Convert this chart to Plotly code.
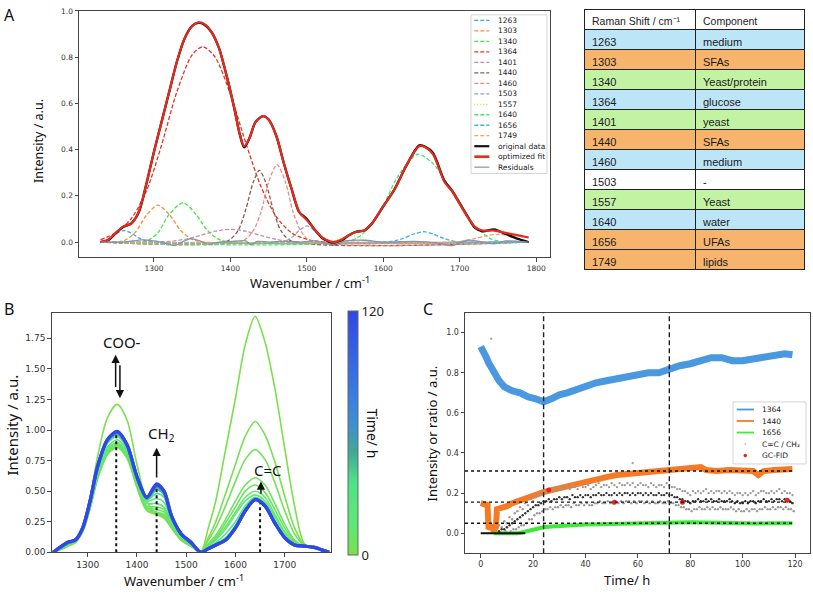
import plotly.graph_objects as go
from plotly.colors import sample_colorscale

W, H = 813, 597
def fx(p): return p / W
def fy(p): return 1 - p / H

TICKFONT = "DejaVu Sans"
LABFONT = "Noto Sans"
TABFONT = "Liberation Sans"

# ---------------- Panel A data ----------------
fit_x = [1230,1240,1250,1260,1270,1280,1290,1300,1310,1320,1330,1340,1350,1358,1365,1375,1385,1395,1405,1412,
         1418,1425,1433,1443,1450,1460,1470,1480,1490,1500,1510,1520,1530,1535,1545,1555,1565,1575,1585,1600,
         1615,1630,1647,1655,1665,1680,1690,1700,1710,1720,1730,1745,1760,1775,1790]
fit_y = [0.0,0.01,0.04,0.068,0.078,0.13,0.25,0.39,0.52,0.65,0.78,0.88,0.935,0.95,0.945,0.91,0.84,0.72,0.58,0.47,
         0.415,0.45,0.52,0.545,0.53,0.46,0.34,0.23,0.13,0.095,0.055,0.02,0.003,0.0,0.01,0.03,0.045,0.05,0.08,0.155,
         0.23,0.33,0.415,0.41,0.38,0.26,0.22,0.165,0.11,0.065,0.05,0.05,0.04,0.03,0.02]
orig_y = [0.0,0.008,0.038,0.066,0.08,0.128,0.25,0.39,0.52,0.65,0.78,0.88,0.935,0.948,0.943,0.91,0.84,0.72,0.58,0.47,
          0.41,0.45,0.52,0.545,0.53,0.46,0.34,0.23,0.13,0.1,0.055,0.018,0.0,-0.01,0.005,0.03,0.045,0.05,0.08,0.155,
          0.23,0.33,0.418,0.412,0.385,0.265,0.222,0.167,0.112,0.062,0.047,0.055,0.035,0.015,0.0]
res_x = [1230,1260,1285,1300,1315,1327,1340,1348,1360,1372,1385,1400,1420,1427,1435,1450,1470,1490,1510,1535,
         1550,1575,1600,1640,1670,1690,1710,1730,1745,1760,1790]
res_y = [0,0.0,0.01,0.005,-0.005,-0.015,0.005,0.015,0.005,-0.01,0,0.002,0.005,-0.012,0.003,0,0.003,0,0.005,-0.01,
         0.005,0.008,0.0,0.003,-0.003,-0.015,0.008,0.0,-0.008,0.005,0]

c1263_x = [1230,1240,1250,1260,1270,1280,1290,1300,1790]
c1263_y = [0,0.012,0.035,0.05,0.04,0.018,0.005,0,0]
c1303_x = [1230,1260,1275,1290,1305,1320,1335,1350,1365,1790]
c1303_y = [0,0.005,0.04,0.115,0.16,0.12,0.05,0.012,0,0]
c1340_x = [1230,1290,1305,1320,1338,1355,1370,1385,1400,1790]
c1340_y = [0,0.005,0.04,0.12,0.17,0.12,0.05,0.012,0,0]
c1364_x = [1230,1250,1270,1290,1310,1330,1350,1364,1380,1400,1420,1440,1460,1480,1500,1520,1790]
c1364_y = [0.01,0.04,0.10,0.22,0.42,0.65,0.81,0.845,0.80,0.64,0.43,0.24,0.11,0.04,0.012,0.002,0]
c1401_x = [1230,1320,1340,1360,1380,1400,1420,1440,1460,1480,1790]
c1401_y = [0,0.003,0.012,0.028,0.047,0.055,0.047,0.028,0.012,0.003,0]
c1440_x = [1230,1395,1410,1420,1430,1438,1446,1456,1466,1480,1790]
c1440_y = [0,0.003,0.05,0.14,0.26,0.31,0.26,0.14,0.05,0.005,0]
c1460_x = [1230,1415,1430,1440,1450,1461,1472,1482,1492,1505,1790]
c1460_y = [0,0.003,0.05,0.13,0.26,0.335,0.26,0.13,0.05,0.005,0]
c1503_x = [1230,1470,1480,1490,1500,1510,1520,1530,1790]
c1503_y = [0,0.003,0.02,0.05,0.07,0.05,0.02,0.003,0]
c1557_x = [1230,1530,1545,1557,1570,1585,1790]
c1557_y = [0,0.002,0.018,0.03,0.018,0.002,0]
c1640_x = [1230,1560,1580,1600,1620,1645,1665,1680,1700,1720,1740,1760,1790]
c1640_y = [0,0.01,0.06,0.16,0.29,0.38,0.34,0.27,0.16,0.07,0.015,0,0]
c1656_x = [1230,1610,1625,1640,1653,1665,1680,1695,1790]
c1656_y = [0,0.003,0.015,0.035,0.045,0.035,0.015,0.003,0]
c1749_x = [1230,1690,1705,1720,1735,1750,1765,1780,1790]
c1749_y = [0,0.0,0.005,0.015,0.028,0.033,0.03,0.025,0.02]

comp_names = ["1263","1303","1340","1364","1401","1440","1460","1503","1557","1640","1656","1749"]
comp_colors = ["#3aa8e8","#f3923a","#3ee83e","#e8321e","#c08cbc","#8c5a50","#f08a7c","#93a2c6",
               "#b8e830","#40e87a","#3fb2e8","#f4a066"]
comp_dash = ["4px,2px"]*8 + ["1px,2px"] + ["4px,2px"]*3
comp_xs = [c1263_x,c1303_x,c1340_x,c1364_x,c1401_x,c1440_x,c1460_x,c1503_x,c1557_x,c1640_x,c1656_x,c1749_x]
comp_ys = [c1263_y,c1303_y,c1340_y,c1364_y,c1401_y,c1440_y,c1460_y,c1503_y,c1557_y,c1640_y,c1656_y,c1749_y]

# ---------------- Table data ----------------
tab_header = ["Raman\u00a0Shift\u00a0/\u00a0cm\u207b\u00b9", "Component"]
tab_shift = ["1263","1303","1340","1364","1401","1440","1460","1503","1557","1640","1656","1749"]
tab_comp = ["medium","SFAs","Yeast/protein","glucose","yeast","SFAs","medium","-","Yeast","water","UFAs","lipids"]
tab_class = ["b","o","g","b","g","o","b","w","g","b","o","o"]

# ---------------- Panel B data ----------------
b_x = [1230,1245,1260,1275,1290,1305,1320,1340,1360,1380,1400,1420,1440,1455,1470,1490,1510,1530,
       1545,1560,1580,1600,1620,1640,1660,1680,1700,1720,1740,1760,1775,1790]
b_times = [0, 2, 4, 6, 8, 10, 14, 20, 30, 45, 70, 95, 120]
s_t0 = [0,0.02,0.05,0.08,0.2,0.45,0.78,1.10,1.21,1.08,0.72,0.42,0.31,0.28,0.2,0.1,0.05,0.01,
        0.2,0.42,0.84,1.26,1.70,1.93,1.72,1.34,0.85,0.38,0.07,0.04,0.02,0]
s_t2 = [0,0.03,0.06,0.08,0.17,0.36,0.60,0.80,0.86,0.77,0.53,0.34,0.31,0.29,0.2,0.1,0.05,0.0,
        0.12,0.25,0.48,0.72,0.95,1.07,0.96,0.74,0.46,0.2,0.06,0.04,0.02,0]
s_t4 = [0,0.03,0.06,0.08,0.17,0.36,0.60,0.80,0.86,0.77,0.54,0.35,0.32,0.30,0.21,0.1,0.05,0,
        0.1,0.2,0.38,0.58,0.76,0.84,0.76,0.57,0.34,0.15,0.06,0.04,0.02,0]
s_t6 = [0,0.03,0.06,0.09,0.17,0.37,0.61,0.81,0.87,0.78,0.55,0.36,0.33,0.31,0.22,0.11,0.06,0,
        0.07,0.14,0.27,0.42,0.55,0.61,0.55,0.40,0.23,0.1,0.05,0.04,0.02,0]
s_t8 = [0,0.03,0.06,0.09,0.18,0.38,0.62,0.82,0.88,0.79,0.56,0.37,0.35,0.33,0.23,0.12,0.06,0,
        0.06,0.12,0.24,0.37,0.50,0.55,0.49,0.35,0.2,0.09,0.05,0.04,0.02,0]
s_t10 = [0,0.035,0.065,0.09,0.18,0.38,0.63,0.83,0.89,0.80,0.57,0.38,0.37,0.35,0.24,0.12,0.06,0,
         0.05,0.11,0.21,0.33,0.45,0.50,0.45,0.31,0.17,0.08,0.05,0.04,0.02,0]
s_t14 = [0,0.035,0.07,0.095,0.19,0.39,0.64,0.84,0.90,0.81,0.58,0.40,0.40,0.37,0.25,0.13,0.07,0,
         0.05,0.1,0.19,0.31,0.42,0.47,0.42,0.29,0.15,0.07,0.05,0.04,0.02,0]
s_t20 = [0,0.035,0.07,0.095,0.19,0.40,0.66,0.86,0.92,0.83,0.59,0.42,0.44,0.41,0.27,0.14,0.07,0,
         0.04,0.08,0.15,0.25,0.38,0.45,0.40,0.26,0.13,0.06,0.05,0.04,0.02,0]
s_t30 = [0,0.04,0.075,0.1,0.2,0.41,0.68,0.89,0.95,0.85,0.60,0.43,0.48,0.45,0.28,0.14,0.08,0,
         0.035,0.07,0.12,0.22,0.36,0.44,0.39,0.25,0.12,0.06,0.05,0.04,0.02,0]
s_t45 = [0,0.04,0.08,0.1,0.2,0.42,0.69,0.91,0.97,0.87,0.61,0.44,0.52,0.48,0.29,0.15,0.08,0,
         0.03,0.06,0.1,0.2,0.34,0.44,0.38,0.24,0.12,0.06,0.05,0.04,0.02,0]
s_t70 = [0,0.04,0.08,0.1,0.2,0.42,0.70,0.92,0.98,0.88,0.62,0.45,0.54,0.50,0.30,0.15,0.08,0,
         0.03,0.06,0.1,0.2,0.34,0.43,0.38,0.24,0.12,0.06,0.05,0.04,0.02,0]
s_t95 = [0,0.045,0.08,0.1,0.2,0.42,0.70,0.92,0.985,0.88,0.62,0.45,0.55,0.50,0.30,0.15,0.08,0,
         0.03,0.06,0.1,0.2,0.34,0.43,0.38,0.24,0.12,0.06,0.05,0.04,0.02,0]
s_t120 = [0,0.045,0.085,0.1,0.2,0.42,0.70,0.92,0.99,0.88,0.62,0.45,0.56,0.50,0.30,0.15,0.08,0,
          0.03,0.06,0.1,0.2,0.34,0.43,0.38,0.24,0.12,0.06,0.05,0.04,0.02,0]
b_spectra = [s_t0,s_t2,s_t4,s_t6,s_t8,s_t10,s_t14,s_t20,s_t30,s_t45,s_t70,s_t95,s_t120]
b_marker_x = [1358, 1440, 1650]
b_marker_top = [0.97, 0.54, 0.40]

# ---------------- Panel C data ----------------
t_1364 = [0,1,2,3,5,7,9,12,15,18,21,24,27,30,33,36,40,44,48,52,56,60,64,68,72,76,80,84,88,92,96,100,104,108,112,116,119]
v_1364 = [0.93,0.91,0.88,0.85,0.80,0.76,0.73,0.71,0.70,0.68,0.67,0.655,0.67,0.69,0.70,0.715,0.73,0.75,0.76,0.77,
          0.785,0.795,0.80,0.80,0.82,0.835,0.845,0.86,0.875,0.875,0.86,0.86,0.87,0.875,0.885,0.895,0.89]
t_1440 = [0,2,2.6,3,4,5,5.8,6.2,8,10,12,14,16,18,20,22,24,27,30,33,36,40,44,48,52,56,60,64,68,72,76,80,84,86,90,95,
          100,104,106,108,112,116,119]
v_1440 = [0.15,0.145,0.14,0.02,0.04,0.01,0.03,0.12,0.125,0.135,0.15,0.16,0.165,0.175,0.185,0.195,0.205,0.215,0.225,
          0.235,0.245,0.255,0.27,0.28,0.29,0.295,0.30,0.305,0.305,0.31,0.315,0.325,0.33,0.315,0.31,0.315,0.315,0.31,
          0.29,0.31,0.315,0.315,0.32]
t_1656 = [5,14,16,18,20,22,24,27,30,35,40,45,50,55,60,65,70,75,80,85,90,95,100,105,110,115,119]
v_1656 = [0.0,0.0,0.005,0.012,0.02,0.025,0.03,0.033,0.036,0.04,0.043,0.045,0.047,0.05,0.05,0.052,0.055,0.056,0.055,
          0.054,0.052,0.05,0.047,0.048,0.05,0.05,0.05]
ratio_t = list(range(7, 120))
ratio_t_half = [t + 0.5 for t in ratio_t]
ratio_mid = [0.01,0.02,0.02,0.03,0.04,0.05,0.06,0.07,0.08,0.09,
             0.10,0.11,0.12,0.13,0.14,0.14,0.15,0.16,0.16,0.17,
             0.16,0.17,0.17,0.18,0.17,0.18,0.18,0.17,0.19,0.18,
             0.18,0.19,0.18,0.19,0.19,0.18,0.19,0.19,0.2,0.19,
             0.19,0.2,0.19,0.19,0.2,0.19,0.2,0.19,0.2,0.2,
             0.19,0.2,0.19,0.2,0.2,0.19,0.2,0.19,0.2,0.19,
             0.19,0.2,0.19,0.19,0.2,0.19,0.19,0.18,0.18,0.17,
             0.17,0.16,0.16,0.15,0.16,0.16,0.17,0.16,0.16,0.17,
             0.16,0.17,0.16,0.16,0.17,0.16,0.16,0.16,0.17,0.16,
             0.15,0.16,0.15,0.15,0.16,0.15,0.16,0.16,0.15,0.16,
             0.16,0.17,0.16,0.16,0.17,0.16,0.17,0.17,0.16,0.17,
             0.16,0.16,0.15]
ratio_hi = [0.04,0.03,0.06,0.05,0.08,0.07,0.10,0.11,0.13,0.12,
            0.15,0.14,0.17,0.16,0.18,0.19,0.19,0.21,0.20,0.22,
            0.21,0.22,0.21,0.23,0.22,0.22,0.23,0.22,0.24,0.23,
            0.22,0.24,0.23,0.23,0.24,0.22,0.23,0.24,0.25,0.23,
            0.24,0.24,0.23,0.25,0.24,0.23,0.25,0.24,0.24,0.25,
            0.24,0.25,0.23,0.24,0.25,0.24,0.24,0.23,0.25,0.24,
            0.23,0.24,0.24,0.23,0.25,0.24,0.23,0.23,0.22,0.22,
            0.21,0.21,0.2,0.19,0.21,0.2,0.21,0.2,0.21,0.22,
            0.2,0.21,0.2,0.21,0.21,0.2,0.21,0.2,0.21,0.2,
            0.19,0.2,0.2,0.19,0.2,0.19,0.2,0.21,0.19,0.2,
            0.21,0.21,0.2,0.2,0.21,0.2,0.21,0.22,0.2,0.21,
            0.2,0.2,0.19]
ratio_lo = [0.0,0.0,0.01,0.0,0.01,0.02,0.02,0.03,0.04,0.04,
            0.05,0.07,0.07,0.09,0.1,0.1,0.11,0.12,0.12,0.13,
            0.12,0.13,0.13,0.14,0.13,0.14,0.14,0.13,0.15,0.14,
            0.14,0.15,0.14,0.15,0.14,0.14,0.15,0.15,0.16,0.15,
            0.15,0.16,0.15,0.15,0.16,0.15,0.16,0.15,0.16,0.16,
            0.15,0.16,0.15,0.16,0.16,0.15,0.16,0.15,0.16,0.15,
            0.15,0.16,0.15,0.15,0.16,0.15,0.15,0.14,0.14,0.13,
            0.13,0.12,0.12,0.11,0.12,0.12,0.13,0.12,0.12,0.13,
            0.12,0.13,0.12,0.12,0.13,0.12,0.12,0.12,0.13,0.12,
            0.11,0.12,0.11,0.11,0.12,0.11,0.12,0.12,0.11,0.12,
            0.12,0.13,0.12,0.12,0.13,0.12,0.13,0.13,0.12,0.13,
            0.12,0.12,0.11]
ratio_zero_t = [0, 17]
ratio_zero_v = [0, 0]
ratio_out_t = [4, 58]
ratio_out_v = [0.97, 0.35]
gc_t = [26, 51, 77, 117]
gc_v = [0.215, 0.155, 0.155, 0.165]
c_hlines = [0.31, 0.155, 0.05]
c_vlines = [24, 72]

# ---------------- Figure ----------------
fig = go.Figure()

# Panel A traces
for nm, xs, ys, col, dsh in zip(comp_names, comp_xs, comp_ys, comp_colors, comp_dash):
    fig.add_trace(go.Scatter(x=xs, y=ys, mode="lines", name=nm, showlegend=False,
                             line=dict(color=col, width=1.3, dash=dsh, shape="spline", smoothing=0.8),
                             xaxis="x", yaxis="y"))
fig.add_trace(go.Scatter(x=fit_x, y=orig_y, mode="lines", showlegend=False,
                         line=dict(color="#111111", width=2.4, shape="spline", smoothing=0.8), xaxis="x", yaxis="y"))
fig.add_trace(go.Scatter(x=fit_x, y=fit_y, mode="lines", showlegend=False,
                         line=dict(color="#e8291c", width=2.2, shape="spline", smoothing=0.8), xaxis="x", yaxis="y"))
fig.add_trace(go.Scatter(x=res_x, y=res_y, mode="lines", showlegend=False,
                         line=dict(color="#8593ad", width=1.3, shape="spline", smoothing=0.8), xaxis="x", yaxis="y"))

# Table
fill_map = {"b": "#bde5f8", "o": "#f7b46c", "g": "#c2f3a2", "w": "#ffffff"}
fills = [fill_map[c] for c in tab_class]
fig.add_trace(go.Table(
    domain=dict(x=[fx(584), fx(804)], y=[0.45, fy(5.7)]),
    columnwidth=[111, 109],
    header=dict(values=tab_header, fill_color="white",
                line=dict(color="#222", width=1), align="left", height=20,
                font=dict(family=TABFONT, size=10.5, color="#1a1a1a")),
    cells=dict(values=[tab_shift, tab_comp], fill_color=[fills, fills],
               line=dict(color="#222", width=1), align="left", height=20,
               font=dict(family=TABFONT, size=11, color="#1a1a1a"))))

# Panel B traces
cscale = [[0, "#7ae04c"], [0.12, "#5ee878"], [0.3, "#4fe28a"], [0.42, "#42a893"],
          [0.52, "#3f92c8"], [0.62, "#3b82e2"], [1, "#2f48e6"]]
b_cols = sample_colorscale(cscale, [t / 120 for t in b_times])
for t, ys, col in zip(b_times, b_spectra, b_cols):
    fig.add_trace(go.Scatter(x=b_x, y=ys, mode="lines", showlegend=False,
                             line=dict(color=col, width=3.2 if t >= 45 else 1.6, shape="spline", smoothing=0.8),
                             xaxis="x2", yaxis="y2"))
for xv, top in zip(b_marker_x, b_marker_top):
    fig.add_trace(go.Scatter(x=[xv, xv], y=[0, top], mode="lines", showlegend=False,
                             line=dict(color="#111", width=2, dash="dot"), xaxis="x2", yaxis="y2"))
fig.add_trace(go.Scatter(x=b_times, y=[None]*len(b_times), mode="markers", showlegend=False,
                         marker=dict(color=b_times, colorscale=cscale, cmin=0, cmax=120, showscale=True,
                                     colorbar=dict(x=fx(348), xanchor="left", xpad=0, ypad=0,
                                                   y=fy(436), yanchor="middle", len=244, lenmode="pixels",
                                                   thickness=10, thicknessmode="pixels",
                                                   outlinewidth=1, outlinecolor="#666",
                                                   tickvals=[0, 120], ticktext=["0", "120"], ticks="",
                                                   tickfont=dict(family=LABFONT, size=13, color="#222"))),
                         xaxis="x2", yaxis="y2"))

# Panel C traces
fig.add_trace(go.Scatter(x=t_1364, y=v_1364, mode="lines", showlegend=False,
                         line=dict(color="#4a98e0", width=7), xaxis="x3", yaxis="y3"))
fig.add_trace(go.Scatter(x=t_1440, y=v_1440, mode="lines", showlegend=False,
                         line=dict(color="#f47a26", width=6), xaxis="x3", yaxis="y3"))
fig.add_trace(go.Scatter(x=t_1656, y=v_1656, mode="lines", showlegend=False,
                         line=dict(color="#3fe83a", width=4), xaxis="x3", yaxis="y3"))
fig.add_trace(go.Scatter(x=ratio_t, y=ratio_hi, mode="markers", showlegend=False,
                         marker=dict(color="#9a9a9a", size=2.4), xaxis="x3", yaxis="y3"))
fig.add_trace(go.Scatter(x=ratio_t_half, y=ratio_lo, mode="markers", showlegend=False,
                         marker=dict(color="#9a9a9a", size=2.4), xaxis="x3", yaxis="y3"))
fig.add_trace(go.Scatter(x=ratio_t, y=ratio_mid, mode="markers", showlegend=False,
                         marker=dict(color="#333333", size=2.4), xaxis="x3", yaxis="y3"))
fig.add_trace(go.Scatter(x=ratio_out_t, y=ratio_out_v, mode="markers", showlegend=False,
                         marker=dict(color="#aaaaaa", size=2.4), xaxis="x3", yaxis="y3"))
fig.add_trace(go.Scatter(x=ratio_zero_t, y=ratio_zero_v, mode="lines", showlegend=False,
                         line=dict(color="#111", width=2), xaxis="x3", yaxis="y3"))
fig.add_trace(go.Scatter(x=gc_t, y=gc_v, mode="markers", showlegend=False,
                         marker=dict(color="#e8231e", size=5), xaxis="x3", yaxis="y3"))

shapes = []
for v in c_hlines:
    shapes.append(dict(type="line", xref="x3", yref="y3", x0=-6, x1=120, y0=v, y1=v,
                       line=dict(color="#111", width=1.4, dash="dot")))
for v in c_vlines:
    shapes.append(dict(type="line", xref="x3", yref="y3 domain", x0=v, x1=v, y0=0, y1=1,
                       line=dict(color="#222", width=1.4, dash="5px,3px")))

annotations = []
def ann(text, x, y, size, angle=0, xanchor="center", color="#111", family=LABFONT):
    annotations.append(dict(text=text, x=fx(x), y=fy(y), xref="paper", yref="paper", showarrow=False,
                            textangle=angle, xanchor=xanchor, yanchor="middle",
                            font=dict(family=family, size=size, color=color)))

# Legend A (manual)
leg_names = comp_names + ["original data", "optimized fit", "Residuals"]
leg_cols = comp_colors + ["#111111", "#e8291c", "#8593ad"]
leg_dash = comp_dash + ["solid", "solid", "solid"]
leg_w = [1.3]*12 + [2.2, 2.6, 1.2]
shapes.append(dict(type="rect", xref="paper", yref="paper", x0=fx(471), x1=fx(547), y0=fy(11), y1=fy(172),
                   line=dict(color="#d4d4d4", width=1), fillcolor="rgba(255,255,255,0.85)"))
for i, (nm, col, dsh, lw) in enumerate(zip(leg_names, leg_cols, leg_dash, leg_w)):
    yy = 16.7 + i * 10.64
    shapes.append(dict(type="line", xref="paper", yref="paper", x0=fx(474.3), x1=fx(489.3), y0=fy(yy), y1=fy(yy),
                       line=dict(color=col, width=lw, dash=dsh)))
    ann(nm, 496, yy, 7.5, xanchor="left", color="#222", family=TICKFONT)

# Legend C (manual)
shapes.append(dict(type="rect", xref="paper", yref="paper", x0=fx(733), x1=fx(806), y0=fy(404), y1=fy(467),
                   line=dict(color="#d4d4d4", width=1), fillcolor="rgba(255,255,255,0.85)"))
c_leg = [("1364", "#4a98e0"), ("1440", "#f47a26"), ("1656", "#3fe83a")]
for i, (nm, col) in enumerate(c_leg):
    yy = 411.7 + i * 11.7
    shapes.append(dict(type="line", xref="paper", yref="paper", x0=fx(736.7), x1=fx(754), y0=fy(yy), y1=fy(yy),
                       line=dict(color=col, width=1.8)))
    ann(nm, 760, yy, 7.5, xanchor="left", color="#222", family=TICKFONT)
yy = 411.7 + 3 * 11.7
shapes.append(dict(type="circle", xref="paper", yref="paper", x0=fx(744.5), x1=fx(746), y0=fy(yy + 0.75), y1=fy(yy - 0.75),
                   line=dict(width=0), fillcolor="#999"))
ann("C=C / CH\u2082", 760, yy, 7.5, xanchor="left", color="#222", family=TICKFONT)
yy = 411.7 + 4 * 11.7
shapes.append(dict(type="circle", xref="paper", yref="paper", x0=fx(743.5), x1=fx(747), y0=fy(yy + 1.75), y1=fy(yy - 1.75),
                   line=dict(width=0), fillcolor="#e8231e"))
ann("GC-FID", 760, yy, 7.5, xanchor="left", color="#222", family=TICKFONT)

# Panel letters and axis titles
ann("A", 9, 11, 16)
ann("B", 9, 310, 16)
ann("C", 428, 310, 16)
ann("Intensity / a.u.", 39, 139, 12.5, angle=-90)
ann("Wavenumber / cm<sup>-1</sup>", 310, 283, 13)
ann("Intensity / a.u.", 12, 428, 15, angle=-90)
ann("Wavenumber / cm<sup>-1</sup>", 184, 585, 13)
ann("Time/ h", 373, 436, 14, angle=90)
ann("Intensity or ratio / a.u.", 432, 436, 13, angle=-90)
ann("Time/ h", 627, 585, 13)

# Panel B text + arrows (data coords)
def bann(text, x, y, size):
    annotations.append(dict(text=text, x=x, y=y, xref="x2", yref="y2", showarrow=False,
                            font=dict(family=LABFONT, size=size, color="#111")))
bann("COO-", 1369, 1.723, 15)
bann("CH<sub>2</sub>", 1450, 0.964, 15)
bann("C=C", 1667, 0.673, 15)
def barrow(x, y0, y1):
    annotations.append(dict(x=x, y=y1, ax=x, ay=y0, xref="x2", yref="y2", axref="x2", ayref="y2",
                            showarrow=True, arrowhead=2, arrowsize=1.1, arrowwidth=1.5, arrowcolor="#111", text=""))
barrow(1356.8, 1.34, 1.615)
barrow(1365.5, 1.543, 1.26)
barrow(1440, 0.60, 0.856)
barrow(1651.8, 0.466, 0.58)

axcommon = dict(showline=True, mirror=True, linecolor="#444", linewidth=1, ticks="outside", ticklen=3.5,
                tickcolor="#444", showgrid=False, zeroline=False)
fig.update_layout(
    width=W, height=H, autosize=False, margin=dict(l=0, r=0, t=0, b=0),
    paper_bgcolor="white", plot_bgcolor="white", showlegend=False,
    xaxis=dict(domain=[fx(79), fx(550)], range=[1202, 1818], tickvals=[1300, 1400, 1500, 1600, 1700, 1800],
               tickfont=dict(family=TICKFONT, size=7.5, color="#333"), anchor="y", **axcommon),
    yaxis=dict(domain=[fy(257), fy(7)], range=[-0.065, 1.0], tickvals=[0, 0.2, 0.4, 0.6, 0.8, 1.0],
               tickformat=".1f", tickfont=dict(family=TICKFONT, size=7.5, color="#333"), anchor="x", **axcommon),
    xaxis2=dict(domain=[fx(51.7), fx(331)], range=[1227, 1794], tickvals=[1300, 1400, 1500, 1600, 1700],
                tickfont=dict(family=TICKFONT, size=9, color="#333"), anchor="y2", **axcommon),
    yaxis2=dict(domain=[fy(556.7), fy(314)], range=[0, 1.955],
                tickvals=[0, 0.25, 0.5, 0.75, 1.0, 1.25, 1.5, 1.75], tickformat=".2f",
                tickfont=dict(family=TICKFONT, size=9, color="#333"), anchor="x2", **axcommon),
    xaxis3=dict(domain=[fx(465), fx(810)], range=[-6, 125.7], tickvals=[0, 20, 40, 60, 80, 100, 120],
                tickfont=dict(family=TICKFONT, size=8, color="#333"), anchor="y3", **axcommon),
    yaxis3=dict(domain=[fy(557.7), fy(313.3)], range=[-0.1, 1.1], tickvals=[0, 0.2, 0.4, 0.6, 0.8, 1.0],
                tickformat=".1f", tickfont=dict(family=TICKFONT, size=8, color="#333"), anchor="x3", **axcommon),
    shapes=shapes, annotations=annotations,
)

fig.write_html("out.html", config={"displayModeBar": False},
               post_script="document.body.style.margin='0';document.body.style.overflow='hidden';")
